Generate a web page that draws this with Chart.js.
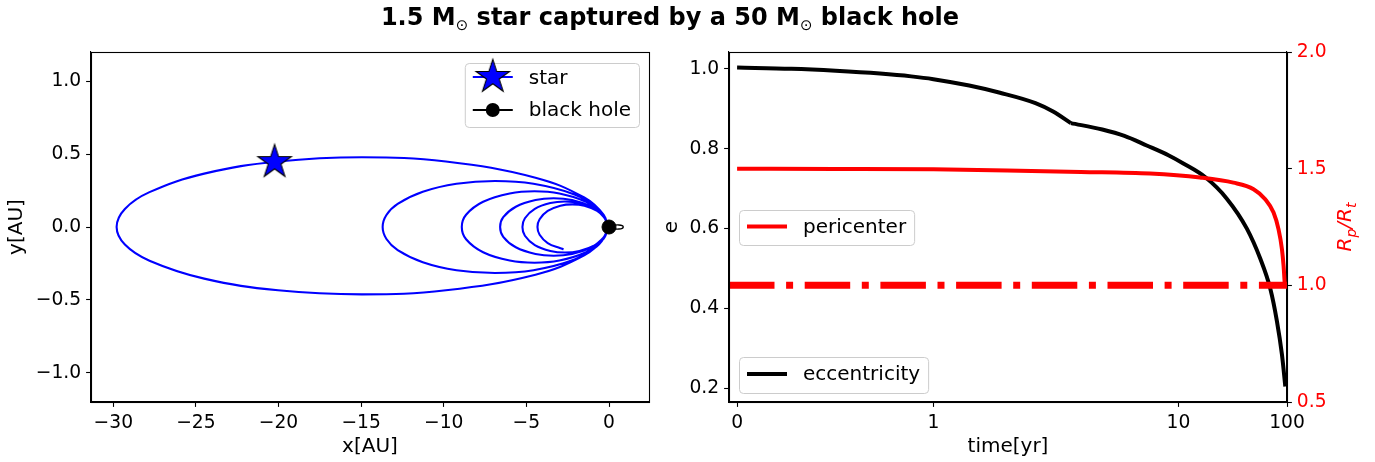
<!DOCTYPE html>
<html><head><meta charset="utf-8">
<script src="https://cdn.jsdelivr.net/npm/chart.js@4.4.1/dist/chart.umd.min.js"></script>
<style>
html,body{margin:0;padding:0;background:#fff;}
#wrap{position:relative;width:1375px;height:462px;overflow:hidden;background:#fff;}
#title{position:absolute;left:0;width:1340px;top:3px;text-align:center;font:bold 24px "DejaVu Sans";color:#000;white-space:nowrap;line-height:28px;}
.sun{font-weight:normal;font-size:15px;position:relative;top:5px;}
canvas{position:absolute;top:0;}
</style></head><body>
<div id="wrap">
<canvas id="orbit" width="660" height="462" style="left:0px"></canvas>
<canvas id="evo" width="715" height="462" style="left:660px"></canvas>
<div id="title">1.5 M<span class="sun">⊙</span> star captured by a 50 M<span class="sun">⊙</span> black hole</div>
</div>
<script>
// ---------------- data ----------------
// star trajectory [AU]: outer orbit, then shrinking orbits, last one partial
const starOrbitX = [
  -0.10,-0.32,-1.50,-4.45,-9.87,-14.95,-20.03,-24.50,-27.81,-29.30,-29.80,-29.30,-27.81,-24.50,-20.03,-14.95,-9.87,-4.45,-1.50,-0.32,
  -0.10,-0.20,-0.74,-2.09,-4.57,-6.90,-9.23,-11.27,-12.79,-13.47,-13.70,-13.47,-12.79,-11.27,-9.23,-6.90,-4.57,-2.09,-0.74,-0.20,
  -0.10,-0.17,-0.51,-1.39,-3.00,-4.51,-6.01,-7.62,-8.65,-8.91,-8.65,-7.62,-6.01,-4.51,-3.00,-1.39,-0.51,-0.17,
  -0.10,-0.15,-0.41,-1.05,-2.24,-3.35,-4.45,-5.64,-6.40,-6.59,-6.40,-5.64,-4.45,-3.35,-2.24,-1.05,-0.41,-0.15,
  -0.10,-0.14,-0.34,-0.85,-1.79,-2.67,-3.55,-4.49,-5.09,-5.24,-5.09,-4.49,-3.55,-2.67,-1.79,-0.85,-0.34,-0.14,
  -0.10,-0.13,-0.30,-0.72,-1.49,-2.22,-2.94,-3.71,-4.20,-4.33,-4.20,-3.71,-2.94,-2.75
];
const starOrbitY = [
  0,0.083,0.202,0.338,0.449,0.478,0.449,0.366,0.239,0.124,0,-0.120,-0.231,-0.354,-0.434,-0.462,-0.434,-0.327,-0.195,-0.080,
  0,0.055,0.133,0.223,0.296,0.315,0.296,0.241,0.158,0.082,0,-0.082,-0.158,-0.241,-0.296,-0.315,-0.296,-0.223,-0.133,-0.055,
  0,0.043,0.104,0.173,0.230,0.245,0.230,0.173,0.084,0,-0.084,-0.173,-0.230,-0.245,-0.230,-0.173,-0.104,-0.043,
  0,0.034,0.083,0.139,0.185,0.197,0.185,0.139,0.067,0,-0.067,-0.139,-0.185,-0.197,-0.185,-0.139,-0.083,-0.034,
  0,0.030,0.074,0.124,0.164,0.175,0.164,0.124,0.060,0,-0.060,-0.124,-0.164,-0.175,-0.164,-0.124,-0.074,-0.030,
  0,0.027,0.066,0.110,0.146,0.155,0.146,0.110,0.053,0,-0.053,-0.110,-0.146,-0.152
];
// black hole trajectory [AU]
const bhOrbitX = [0, 0.30, 0.60, 0.80, 0.86, 0.80, 0.60, 0.30, 0];
const bhOrbitY = [0, 0.012, 0.014, 0.009, 0, -0.009, -0.014, -0.012, 0];
const starMarker = [-20.24, 0.445];
const bhMarker = [0, 0];
const orbitXTicks = [-30, -25, -20, -15, -10, -5, 0];
const orbitYTicks = [-1.0, -0.5, 0.0, 0.5, 1.0];

// eccentricity vs time [yr] (slope changes abruptly at eKinkTime)
const eTime   = [0, 0.276, 0.502, 0.728, 0.887, 1.0, 1.40, 1.87, 2.61, 3.08, 3.64, 4.89, 6.02, 7.42, 9.14, 11.1, 17.6, 27.9, 42.7, 56.7, 70.1, 80.8, 89.9, 96.5];
const eValues = [1.003, 1.000, 0.995, 0.988, 0.981, 0.974, 0.958, 0.940, 0.914, 0.893, 0.864, 0.848, 0.832, 0.808, 0.783, 0.763, 0.729, 0.675, 0.600, 0.525, 0.450, 0.368, 0.284, 0.205];
const eKinkTime = 3.64;
// pericenter Rp/Rt vs time [yr]
const pTime   = [0, 0.5, 1.0, 2.0, 4.0, 7.66, 15.8, 32.1, 49.2, 63.0, 75.2, 83.6, 89.9, 93.0, 95.5];
const pValues = [1.500, 1.499, 1.497, 1.492, 1.486, 1.479, 1.462, 1.440, 1.412, 1.369, 1.312, 1.240, 1.154, 1.083, 1.000];
const tidalLimit = 1.0;
const timeTicks = [0, 1, 10, 100];
const eTicks = [0.2, 0.4, 0.6, 0.8, 1.0];
const rTicks = [0.5, 1.0, 1.5, 2.0];

// ---------------- styling / scale set-up ----------------
Chart.defaults.font.family = '"DejaVu Sans", sans-serif';
Chart.defaults.color = '#000';
Chart.defaults.animation = false;
const TICK_FONT = {size: 18.7};
const LABEL_FONT = {size: 20};
const TL = 4.9;

// time axis: linear below 1 yr, logarithmic decades above (tick positions as fraction of axis)
const timeTickFrac = [0.0145, 0.3663, 0.8054, 1.0];
function timeToFrac(t) {
  const f = timeTickFrac;
  if (t <= 1) return f[0] + (f[1] - f[0]) * t;
  if (t <= 10) return f[1] + (f[2] - f[1]) * Math.log10(t);
  return f[2] + (f[3] - f[2]) * Math.log10(t / 10);
}
function fracToTime(p) {
  const f = timeTickFrac;
  if (p <= f[1]) return (p - f[0]) / (f[1] - f[0]);
  if (p <= f[2]) return Math.pow(10, (p - f[1]) / (f[2] - f[1]));
  return 10 * Math.pow(10, (p - f[2]) / (f[3] - f[2]));
}
class SegmentedTimeScale extends Chart.LinearScale {
  determineDataLimits() { this.min = fracToTime(0); this.max = fracToTime(1); }
  buildTicks() { return timeTicks.map(v => ({value: v})); }
  getPixelForValue(v) { return this.getPixelForDecimal(timeToFrac(v)); }
  getValueForPixel(p) { return fracToTime(this.getDecimalForPixel(p)); }
}
SegmentedTimeScale.id = 'segtime';
SegmentedTimeScale.defaults = {};
Chart.register(SegmentedTimeScale);

const minus = v => (v < 0 ? '\u2212' + String(Math.abs(v)) : String(v));
const minus1 = v => (v < 0 ? '\u2212' + Math.abs(v).toFixed(1) : Math.abs(v).toFixed(1));

function axisBase(extra) {
  return Object.assign({
    grid: {display: true, drawOnChartArea: false, drawTicks: true, tickLength: TL, tickColor: '#000', tickWidth: 1.1, color: '#000'},
    border: {display: true, color: '#000', width: 1.1},
  }, extra);
}

// star marker image (5-pointed star, blue with black edge)
const starImg = document.createElement('canvas');
starImg.width = 40; starImg.height = 40;
(function () {
  const c = starImg.getContext('2d');
  const R = 17.6, r = R * 0.382;
  c.beginPath();
  for (let k = 0; k < 10; k++) {
    const a = -Math.PI / 2 + k * Math.PI / 5;
    const rr = k % 2 === 0 ? R : r;
    const px = 20 + rr * Math.cos(a), py = 20 + rr * Math.sin(a);
    k === 0 ? c.moveTo(px, py) : c.lineTo(px, py);
  }
  c.closePath();
  c.fillStyle = '#0000ff'; c.fill();
  c.lineWidth = 1.1; c.strokeStyle = '#000'; c.lineJoin = 'miter'; c.stroke();
})();

function roundRect(ctx, x, y, w, h, r) {
  ctx.beginPath();
  ctx.moveTo(x + r, y);
  ctx.lineTo(x + w - r, y); ctx.quadraticCurveTo(x + w, y, x + w, y + r);
  ctx.lineTo(x + w, y + h - r); ctx.quadraticCurveTo(x + w, y + h, x + w - r, y + h);
  ctx.lineTo(x + r, y + h); ctx.quadraticCurveTo(x, y + h, x, y + h - r);
  ctx.lineTo(x, y + r); ctx.quadraticCurveTo(x, y, x + r, y);
  ctx.closePath();
}
// legend box: anchor {x or right, y, h}, rows [{cy, label, handle}]
function drawLegend(ctx, anchor, rows) {
  ctx.save();
  ctx.font = '20px "DejaVu Sans"';
  let tw = 0;
  rows.forEach(r => { tw = Math.max(tw, ctx.measureText(r.label).width); });
  const w = 8 + 40 + 16 + tw + 8;
  const x = anchor.right !== undefined ? anchor.right - w : anchor.x;
  roundRect(ctx, x + 0.5, anchor.y + 0.5, w, anchor.h, 4);
  ctx.fillStyle = 'rgba(255,255,255,0.8)'; ctx.fill();
  ctx.lineWidth = 1; ctx.strokeStyle = '#cccccc'; ctx.stroke();
  rows.forEach(r => {
    r.handle(ctx, x + 8, x + 48, r.cy);
    ctx.fillStyle = '#000'; ctx.textBaseline = 'alphabetic'; ctx.textAlign = 'left';
    ctx.font = '20px "DejaVu Sans"';
    ctx.fillText(r.label, x + 64, r.cy + (r.dy || 6));
  });
  ctx.restore();
}
function lineHandle(color, width) {
  return (ctx, x0, x1, cy) => {
    ctx.beginPath(); ctx.moveTo(x0, cy); ctx.lineTo(x1, cy);
    ctx.strokeStyle = color; ctx.lineWidth = width; ctx.lineCap = 'butt'; ctx.stroke();
  };
}
function frame(chart) {
  const {ctx, chartArea: a} = chart;
  ctx.save();
  ctx.strokeStyle = '#000'; ctx.lineWidth = 1.1;
  ctx.strokeRect(Math.round(a.left) + 0.5, Math.round(a.top) + 0.5, Math.round(a.right - a.left), Math.round(a.bottom - a.top));
  ctx.restore();
}

// ---------------- left panel: orbit ----------------
new Chart(document.getElementById('orbit'), {
  type: 'scatter',
  data: {datasets: [
    {data: [{x: bhMarker[0], y: bhMarker[1]}], pointStyle: 'circle', pointRadius: 7, pointBackgroundColor: '#000', pointBorderColor: '#000', pointBorderWidth: 1, showLine: false},
    {data: [{x: starMarker[0], y: starMarker[1]}], pointStyle: starImg, pointRadius: 17, showLine: false},
    {data: bhOrbitX.map((x, i) => ({x, y: bhOrbitY[i]})), showLine: true, borderColor: '#000', borderWidth: 1.4, pointRadius: 0, tension: 0.4},
    {data: starOrbitX.map((x, i) => ({x, y: starOrbitY[i]})), showLine: true, borderColor: '#0000ff', borderWidth: 2.1, pointRadius: 0, tension: 0.4}
  ]},
  options: {
    responsive: false, devicePixelRatio: 1, animation: false,
    layout: {autoPadding: false, padding: {left: 0, right: 11, top: 52, bottom: 0}},
    plugins: {legend: {display: false}, tooltip: {enabled: false}},
    scales: {
      x: axisBase({type: 'linear', min: -31.35, max: 2.42,
        afterBuildTicks: s => { s.ticks = orbitXTicks.map(v => ({value: v})); },
        ticks: {font: TICK_FONT, color: '#000', padding: TL, maxRotation: 0, autoSkip: false, callback: v => minus(v)},
        title: {display: true, text: 'x[AU]', font: LABEL_FONT, color: '#000', padding: {top: 0, bottom: 3}},
        afterFit: s => { s.height = 60; }}),
      y: axisBase({type: 'linear', min: -1.2, max: 1.2,
        afterBuildTicks: s => { s.ticks = orbitYTicks.map(v => ({value: v})); },
        ticks: {font: TICK_FONT, color: '#000', padding: TL, autoSkip: false, callback: v => minus1(v)},
        title: {display: true, text: 'y[AU]', font: LABEL_FONT, color: '#000', padding: {top: 5, bottom: 0}},
        afterFit: s => { s.width = 91; }})
    }
  },
  plugins: [{
    id: 'orbitDecor',
    afterDatasetsDraw: c => frame(c),
    afterDraw: c => {
      drawLegend(c.ctx, {right: 639, y: 63, h: 64}, [
        {cy: 77, dy: 7, label: 'star', handle: (ctx, x0, x1, cy) => {
          lineHandle('#0000ff', 2.1)(ctx, x0, x1, cy);
          ctx.drawImage(starImg, (x0 + x1) / 2 - 20, cy - 20);
        }},
        {cy: 110, label: 'black hole', handle: (ctx, x0, x1, cy) => {
          lineHandle('#000', 2.1)(ctx, x0, x1, cy);
          ctx.beginPath(); ctx.arc((x0 + x1) / 2, cy, 7, 0, Math.PI * 2); ctx.fillStyle = '#000'; ctx.fill();
        }}
      ]);
    }
  }]
});

// ---------------- right panel: evolution ----------------
const kink = eTime.indexOf(eKinkTime);
const ePoints = eTime.map((x, i) => ({x, y: eValues[i]}));
const eStyle = {yAxisID: 'y', showLine: true, borderColor: '#000', borderWidth: 4, pointRadius: 0, cubicInterpolationMode: 'monotone', order: 2};
new Chart(document.getElementById('evo'), {
  type: 'scatter',
  data: {datasets: [
    {data: pTime.map((x, i) => ({x, y: pValues[i]})), yAxisID: 'y2', showLine: true, borderColor: '#ff0000', borderWidth: 4, pointRadius: 0, cubicInterpolationMode: 'monotone', order: 0},
    {data: [{x: fracToTime(0), y: tidalLimit}, {x: fracToTime(1), y: tidalLimit}], yAxisID: 'y2', showLine: true, borderColor: '#ff0000', borderWidth: 7, borderDash: [45.5, 11.6, 7, 11.6], borderCapStyle: 'butt', pointRadius: 0, order: 1},
    Object.assign({data: ePoints.slice(0, kink + 1)}, eStyle),
    Object.assign({data: ePoints.slice(kink)}, eStyle)
  ]},
  options: {
    responsive: false, devicePixelRatio: 1, animation: false,
    layout: {autoPadding: false, padding: {left: 0, right: 0, top: 52, bottom: 0}},
    plugins: {legend: {display: false}, tooltip: {enabled: false}},
    scales: {
      x: axisBase({type: 'segtime',
        ticks: {font: TICK_FONT, color: '#000', padding: TL, maxRotation: 0, autoSkip: false, callback: v => String(v)},
        title: {display: true, text: 'time[yr]', font: LABEL_FONT, color: '#000', padding: {top: 0, bottom: 3}},
        afterFit: s => { s.height = 60; }}),
      y: axisBase({type: 'linear', position: 'left', min: 0.166, max: 1.042,
        afterBuildTicks: s => { s.ticks = eTicks.map(v => ({value: v})); },
        ticks: {font: TICK_FONT, color: '#000', padding: TL, autoSkip: false, callback: v => v.toFixed(1)},
        title: {display: true, text: 'e', font: LABEL_FONT, color: '#000', padding: {top: 0, bottom: 0}},
        afterFit: s => { s.width = 69; }}),
      y2: axisBase({type: 'linear', position: 'right', min: 0.5, max: 2.0,
        afterBuildTicks: s => { s.ticks = rTicks.map(v => ({value: v})); },
        ticks: {font: TICK_FONT, color: '#ff0000', padding: TL, autoSkip: false, callback: v => v.toFixed(1)},
        afterFit: s => { s.width = 88; }})
    }
  },
  plugins: [{
    id: 'evoDecor',
    afterDatasetsDraw: c => frame(c),
    afterDraw: c => {
      const ctx = c.ctx;
      drawLegend(ctx, {x: 79, y: 210, h: 35}, [{cy: 226.5, label: 'pericenter', handle: lineHandle('#ff0000', 4)}]);
      drawLegend(ctx, {x: 79, y: 357, h: 36}, [{cy: 374, label: 'eccentricity', handle: lineHandle('#000', 4)}]);
      // right axis label R_p / R_t
      const a = c.chartArea;
      const parts = [
        {t: 'R', size: 20, dy: 0}, {t: 'p', size: 14, dy: 4.5},
        {t: '/R', size: 20, dy: 0}, {t: 't', size: 14, dy: 4.5}
      ];
      ctx.save();
      let W = 0;
      parts.forEach(p => { ctx.font = 'italic ' + p.size + 'px "DejaVu Sans"'; p.w = ctx.measureText(p.t).width; W += p.w; });
      ctx.translate(684, (a.top + a.bottom) / 2);
      ctx.rotate(-Math.PI / 2);
      ctx.fillStyle = '#ff0000'; ctx.textBaseline = 'alphabetic'; ctx.textAlign = 'left';
      let xx = -W / 2;
      parts.forEach(p => { ctx.font = 'italic ' + p.size + 'px "DejaVu Sans"'; ctx.fillText(p.t, xx, 7 + p.dy); xx += p.w; });
      ctx.restore();
    }
  }]
});
</script>
</body></html>
